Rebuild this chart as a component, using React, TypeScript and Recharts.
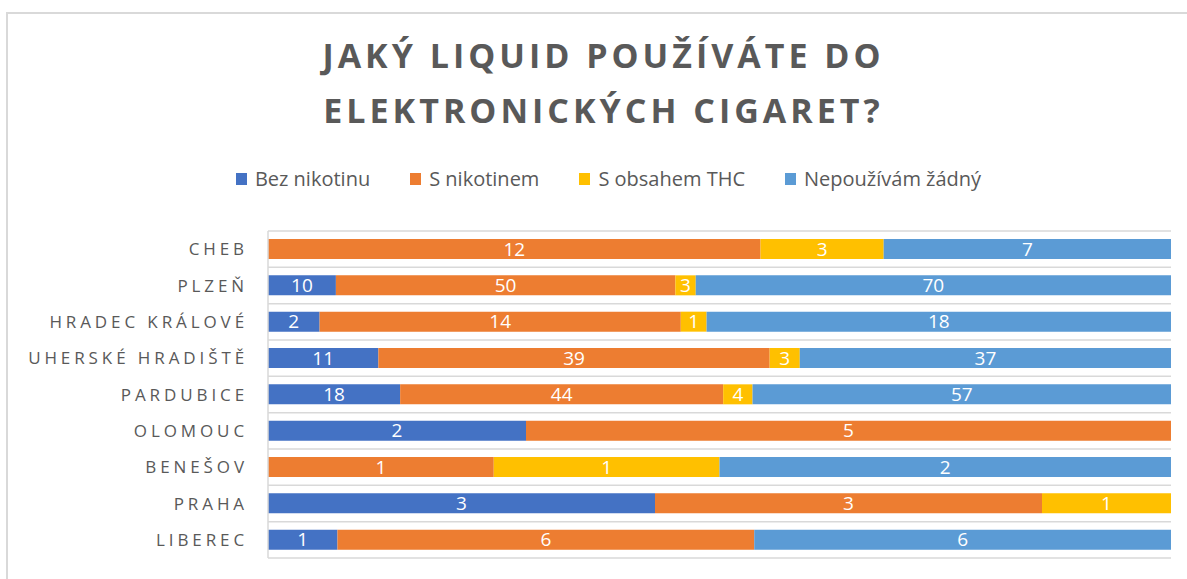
import React from 'react';
import { BarChart, Bar, XAxis, YAxis, CartesianGrid, Legend, LabelList } from 'recharts';

const cities = ['CHEB', 'PLZEŇ', 'HRADEC KRÁLOVÉ', 'UHERSKÉ HRADIŠTĚ', 'PARDUBICE', 'OLOMOUC', 'BENEŠOV', 'PRAHA', 'LIBEREC'];
const bezNikotinu = [0, 10, 2, 11, 18, 2, 0, 3, 1];
const sNikotinem = [12, 50, 14, 39, 44, 5, 1, 3, 6];
const sThc = [3, 3, 1, 3, 4, 0, 1, 1, 0];
const nepouzivam = [7, 70, 18, 37, 57, 0, 2, 0, 6];

const SERIES = [
  { key: 'bez', name: 'Bez nikotinu', color: '#4472C4' },
  { key: 'snik', name: 'S nikotinem', color: '#ED7D31' },
  { key: 'thc', name: 'S obsahem THC', color: '#FFC000' },
  { key: 'nep', name: 'Nepoužívám žádný', color: '#5B9BD5' },
];

const data = cities.map((city, i) => ({
  city,
  bez: bezNikotinu[i],
  snik: sNikotinem[i],
  thc: sThc[i],
  nep: nepouzivam[i],
}));

const FONT = '"Open Sans", sans-serif';

const renderLegend = () => (
  <div style={{ display: 'flex', justifyContent: 'center', fontFamily: FONT, fontSize: 20, lineHeight: '24px', color: '#595959' }}>
    {SERIES.map((s, i) => (
      <div key={s.key} style={{ display: 'flex', alignItems: 'center', marginLeft: i ? 40 : 0 }}>
        <span style={{ display: 'inline-block', width: 11, height: 12, background: s.color, marginRight: 8 }} />
        <span>{s.name}</span>
      </div>
    ))}
  </div>
);

export default function App() {
  return (
    <div style={{ position: 'absolute', left: 0, top: 0, width: 1187, height: 579, overflow: 'hidden', background: '#fff' }}>
      <div style={{ position: 'absolute', left: 6, top: 12, width: 1220, height: 620, border: '2px solid #d9d9d9', boxSizing: 'border-box' }} />
      <div style={{ position: 'absolute', left: 0, top: 28, width: 1207, textAlign: 'center', fontFamily: FONT, fontWeight: 700, fontSize: 34, lineHeight: '55px', letterSpacing: 4, color: '#595959' }}>
        JAKÝ LIQUID POUŽÍVÁTE DO<br />ELEKTRONICKÝCH CIGARET?
      </div>
      <div style={{ position: 'absolute', left: 0, top: 0 }}>
        <BarChart
          width={1187}
          height={579}
          data={data}
          layout="vertical"
          stackOffset="expand"
          barSize={20}
          margin={{ top: 207, right: 16, bottom: 21, left: 0 }}
        >
          <CartesianGrid
            vertical={false}
            stroke="#d9d9d9"
            strokeWidth={1.5}
            horizontalCoordinatesGenerator={({ offset }: any) =>
              Array.from({ length: cities.length + 1 }, (_, i) => offset.top + (i * offset.height) / cities.length)
            }
          />
          <XAxis type="number" domain={[0, 1]} hide />
          <YAxis
            type="category"
            dataKey="city"
            width={268}
            tickLine={false}
            tickSize={0}
            tickMargin={20}
            axisLine={{ stroke: '#d9d9d9', strokeWidth: 1.5 }}
            tick={{ fill: '#595959', fontSize: 17, fontFamily: FONT, letterSpacing: 3.9 }}
            interval={0}
          />
          <Legend
            verticalAlign="top"
            content={renderLegend}
            wrapperStyle={{ position: 'absolute', top: 167, left: 15, width: 1187 }}
          />
          {SERIES.map((s) => (
            <Bar key={s.key} dataKey={s.key} name={s.name} stackId="a" fill={s.color} isAnimationActive={false}>
              <LabelList
                dataKey={s.key}
                position="center"
                fill="#ffffff"
                fontSize={19}
                fontFamily={FONT}
                formatter={(v: any) => (v ? v : '')}
              />
            </Bar>
          ))}
        </BarChart>
      </div>
    </div>
  );
}
